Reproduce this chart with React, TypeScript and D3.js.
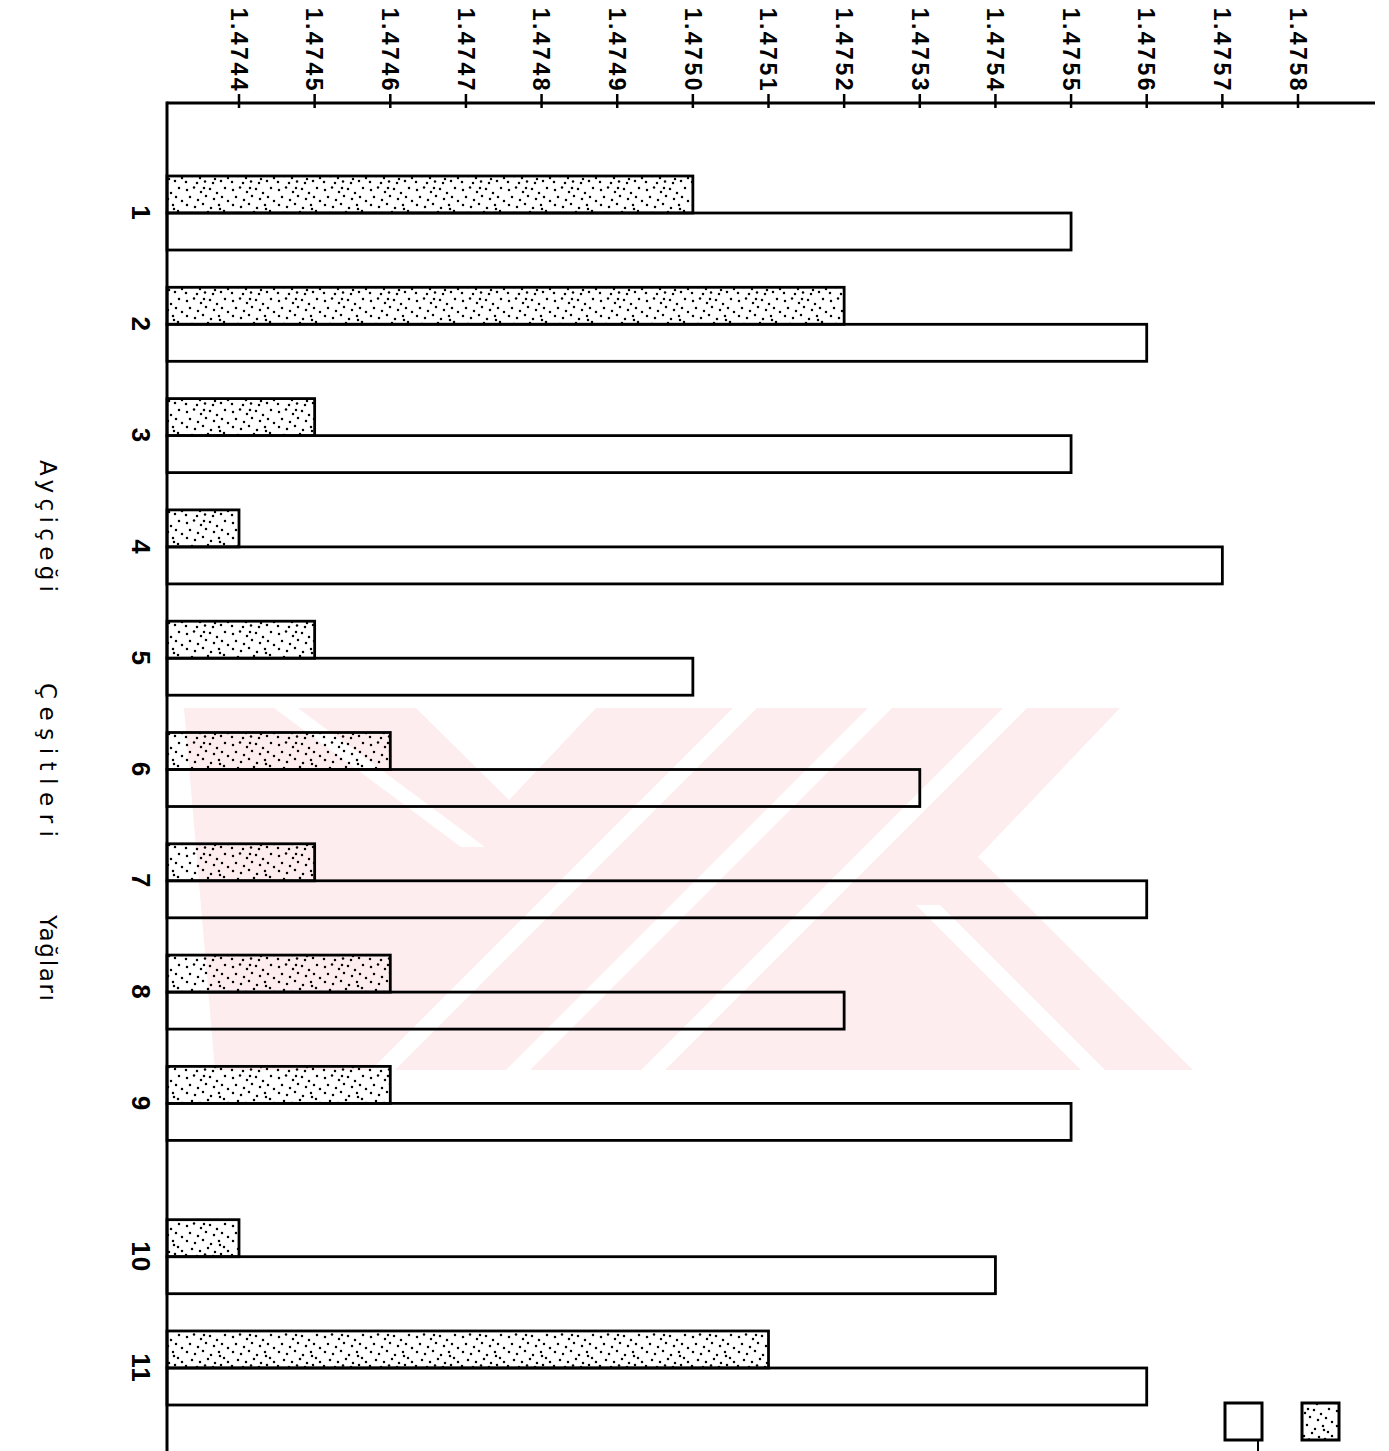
import React from "react";
import * as d3 from "d3";

// ---- data ----
const categories = ["1", "2", "3", "4", "5", "6", "7", "8", "9", "10", "11"];
const stippledValues = [1.475, 1.4752, 1.4745, 1.4744, 1.4745, 1.4746, 1.4745, 1.4746, 1.4746, 1.4744, 1.4751];
const openValues = [1.4755, 1.4756, 1.4755, 1.4757, 1.475, 1.4753, 1.4756, 1.4752, 1.4755, 1.4754, 1.4756];
const tickLabels = [
  "1.4744", "1.4745", "1.4746", "1.4747", "1.4748", "1.4749", "1.4750",
  "1.4751", "1.4752", "1.4753", "1.4754", "1.4755", "1.4756", "1.4757", "1.4758",
];
const seriesKeys = ["stippled", "open"];
const titleWords = ["Ayçiçeği", "Çeşitleri", "Yağları"];

// ---- layout ----
const W = 1389;
const H = 1451;
const axisY = 103;
const axisX = 167;
const axisRight = 1375;
const groupBreakAfter = "9";
const groupGap = 42;

const x = d3.scaleLinear().domain([1.4744, 1.4758]).range([239, 1298]);
const yBand = d3.scaleBand<string>().domain(categories).range([176, 1363]).paddingInner(0.335).paddingOuter(0).align(0);
const ySub = d3.scaleBand<string>().domain(seriesKeys).range([0, yBand.bandwidth()]);
const breakIdx = categories.indexOf(groupBreakAfter);
const yPos = (c: string) => (yBand(c) as number) + (categories.indexOf(c) > breakIdx ? groupGap : 0);

const titleLayout = [
  { start: 460, len: 132 },
  { start: 683, len: 154 },
  { start: 915, len: 86 },
];

// decorative stipple texture dots (pattern cell 46 x 37)
const stippleDots: [number, number][] = [
  [3, 5], [10, 2.5], [17, 7], [26, 4], [33, 8], [41, 3], [6, 12], [14, 15], [22, 11], [30, 14],
  [38, 12], [44, 16], [3, 20], [11, 22], [19, 19], [27, 23], [35, 20], [8, 28], [16, 30], [24, 27],
  [31, 31], [40, 26], [2, 34], [13, 35], [21, 33.5], [29, 35], [37, 33], [44, 30], [20, 3], [36, 24],
];

const wmColor = "#fdedef";

export default function App() {
  const font = "'Liberation Sans', Arial, sans-serif";
  return (
    <svg
      width={W}
      height={H}
      style={{ position: "absolute", left: 0, top: 0, background: "#fff" }}
      xmlns="http://www.w3.org/2000/svg"
    >
      <defs>
        <pattern id="stipple" width={46} height={37} patternUnits="userSpaceOnUse">
          {stippleDots.map(([px, py], i) => (
            <circle key={i} cx={px} cy={py} r={1.25} fill="#000" />
          ))}
        </pattern>
      </defs>
      <rect x={0} y={0} width={W} height={H} fill="#fff" />

      {/* watermark */}
      <g>
        <polygon points="184,708 1120,708 978,857 1193,1070 215,1070" fill={wmColor} />
        <polygon points="274,708 298,708 485,847 461,847" fill="#fff" />
        <polygon points="416,708 596,708 509,800" fill="#fff" />
        <polygon points="733,708 757,708 395,1070 371,1070" fill="#fff" />
        <polygon points="868,708 892,708 530,1070 506,1070" fill="#fff" />
        <polygon points="1003,708 1027,708 665,1070 641,1070" fill="#fff" />
        <polygon points="916,905 940,905 1105,1070 1081,1070" fill="#fff" />
      </g>

      {/* bars */}
      {categories.map((c, i) => {
        const y0 = yPos(c);
        const hS = ySub.bandwidth();
        return (
          <g key={c}>
            <rect
              x={axisX}
              y={y0 + (ySub("stippled") as number)}
              width={x(stippledValues[i]) - axisX}
              height={hS}
              fill="url(#stipple)"
              stroke="#000"
              strokeWidth={2.8}
            />
            <rect
              x={axisX}
              y={y0 + (ySub("open") as number)}
              width={x(openValues[i]) - axisX}
              height={hS}
              fill="none"
              stroke="#000"
              strokeWidth={2.8}
            />
          </g>
        );
      })}

      {/* axes */}
      <line x1={axisX} x2={axisRight} y1={axisY} y2={axisY} stroke="#000" strokeWidth={3} />
      <line x1={axisX} x2={axisX} y1={axisY - 1.5} y2={H} stroke="#000" strokeWidth={3} />

      {tickLabels.map((t) => {
        const v = +t;
        const tx = x(v);
        return (
          <g key={t}>
            <line x1={tx} x2={tx} y1={axisY - 9} y2={axisY + 5} stroke="#000" strokeWidth={2.5} />
            <text
              transform={`translate(${tx},${axisY - 10}) rotate(90)`}
              textAnchor="end"
              dy="0.36em"
              fontFamily={font}
              fontWeight="bold"
              fontSize={23}
              letterSpacing={2.5}
              fill="#000"
            >
              {t}
            </text>
          </g>
        );
      })}

      {/* category labels */}
      {categories.map((c) => {
        const cy = yPos(c) + (ySub("open") as number);
        return (
          <text
            key={c}
            transform={`translate(141,${cy}) rotate(90)`}
            textAnchor="middle"
            dy="0.36em"
            fontFamily={font}
            fontWeight="bold"
            fontSize={26}
            letterSpacing={1}
            fill="#000"
          >
            {c}
          </text>
        );
      })}

      {/* axis title */}
      {titleWords.map((w, i) => (
        <text
          key={w}
          transform={`translate(40,${titleLayout[i].start}) rotate(90)`}
          textAnchor="start"
          fontFamily="'DejaVu Sans', sans-serif"
          fontSize={23}
          textLength={titleLayout[i].len}
          lengthAdjust="spacing"
          fill="#000"
        >
          {w}
        </text>
      ))}

      {/* legend */}
      <rect x={1225} y={1403} width={37} height={37} fill="none" stroke="#000" strokeWidth={3} />
      <line x1={1258} x2={1258} y1={1440} y2={H} stroke="#000" strokeWidth={2} />
      <rect x={1302} y={1403} width={37} height={37} fill="url(#stipple)" stroke="#000" strokeWidth={3} />
    </svg>
  );
}
